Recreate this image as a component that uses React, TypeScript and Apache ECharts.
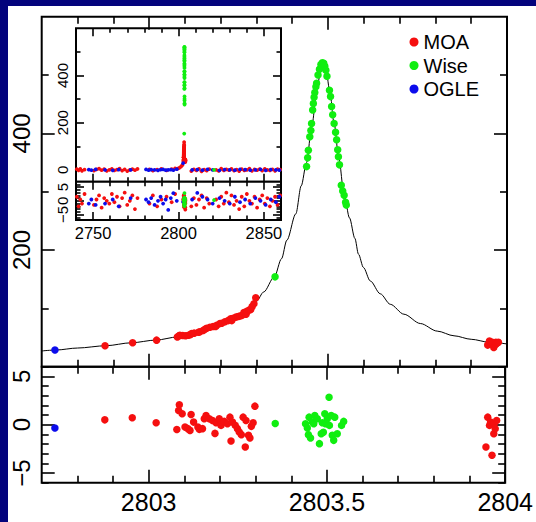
import React, { useEffect, useRef } from 'react';
import * as echarts from 'echarts';

// ---- model curve ----
const curveX = [2802.70, 2802.74, 2802.80, 2802.88, 2802.95, 2803.02, 2803.08, 2803.12, 2803.16, 2803.20, 2803.24, 2803.28, 2803.30, 2803.32, 2803.35, 2803.37, 2803.385, 2803.41, 2803.425, 2803.44, 2803.455, 2803.47, 2803.48, 2803.487, 2803.495, 2803.505, 2803.517, 2803.53, 2803.545, 2803.56, 2803.575, 2803.585, 2803.599, 2803.618, 2803.646, 2803.674, 2803.712, 2803.758, 2803.805, 2803.852, 2803.90, 2803.95, 2804.00];
const curveY = [27, 28.6, 32, 36, 41, 45.7, 51, 57, 66, 75, 85, 99, 112, 128, 154, 185, 217, 262, 310, 350, 415, 480, 510, 520, 505, 472, 417, 358, 294, 255, 220, 193, 170, 147, 125, 107, 90, 74, 61, 53, 47, 42, 39];

// ---- MOA ----
const moaX = [2802.877, 2802.954, 2803.021, 2803.079, 2803.084, 2803.086, 2803.094, 2803.102, 2803.110, 2803.116, 2803.119, 2803.126, 2803.138, 2803.142, 2803.151, 2803.156, 2803.161, 2803.170, 2803.179, 2803.186, 2803.189, 2803.198, 2803.203, 2803.212, 2803.221, 2803.228, 2803.231, 2803.235, 2803.243, 2803.249, 2803.254, 2803.260, 2803.265, 2803.271, 2803.273, 2803.280, 2803.284, 2803.288, 2803.293, 2803.298, 2803.946, 2803.951, 2803.956, 2803.959, 2803.963, 2803.968, 2803.969, 2803.972, 2803.976];
const moaY = [36, 41, 45.5, 51, 53, 54, 53.5, 53, 54, 55, 57, 57.5, 59, 60, 62, 64, 66, 67.5, 69, 69, 71, 74, 74.5, 77, 79, 82, 79, 83, 85, 86, 87, 88, 93, 90, 95, 97, 98, 103, 108, 118, 37, 44, 41, 42, 33, 38, 42, 40, 42];
const moaR = [0.5, 0.72, 0.2, -0.5, 1.47, 2.06, 1.13, -0.25, -0.41, -0.59, 1.06, 0.27, -0.25, -0.48, -0.41, 0.62, 0.96, 0.62, 0.44, -0.9, 0.2, 0.62, -0.07, 0.34, 0.1, 0.78, -1.69, 0.27, -0.07, -0.41, -0.76, -1.03, 0.78, -2.3, 0.44, -1.1, -1.38, -0.17, 0.2, 1.92, -2.3, 0.78, -0.07, 0.27, -3.16, -0.93, 0.1, -0.41, 0.44];

// ---- Wise ----
const wiseX = [2803.352, 2803.440, 2803.443, 2803.445, 2803.449, 2803.452, 2803.454, 2803.457, 2803.459, 2803.461, 2803.463, 2803.466, 2803.468, 2803.472, 2803.476, 2803.480, 2803.484, 2803.488, 2803.491, 2803.494, 2803.497, 2803.504, 2803.507, 2803.510, 2803.513, 2803.517, 2803.521, 2803.524, 2803.527, 2803.529, 2803.532, 2803.537, 2803.541, 2803.545, 2803.549, 2803.551];
const wiseY = [154, 343, 358, 371, 394, 405, 417, 440, 451, 462, 470, 480, 486, 500, 510, 518, 521, 520, 515, 508, 498, 474, 463, 446, 432, 417, 402, 389, 372, 360, 346, 311, 301, 294, 282, 277];
const wiseRX = [2803.355, 2803.440, 2803.445, 2803.448, 2803.450, 2803.454, 2803.459, 2803.463, 2803.466, 2803.473, 2803.479, 2803.484, 2803.487, 2803.490, 2803.494, 2803.496, 2803.501, 2803.506, 2803.507, 2803.512, 2803.515, 2803.519, 2803.522, 2803.529, 2803.541, 2803.547];
const wiseR = [0.13, 0.1, -0.35, -1.03, 0.78, -1.38, 0.27, 0.1, 0.96, 0.62, -1.96, -0.93, 0.2, -0.78, 1.13, 0.1, 0.62, 2.84, -0.07, 0.96, -1.1, -1.62, 0.78, -0.93, -0.07, 0.34];

// ---- OGLE ----
const ogleX = [2802.737];
const ogleY = [28.6];
const ogleR = [-0.35];

// ---- inset (whole season) ----
const insetMoaX = [2740.5, 2741.5, 2742.5, 2743.5, 2745, 2750.5, 2752, 2753.5, 2755, 2756.5, 2758, 2759.5, 2761, 2762.5, 2764, 2765.5, 2767, 2768.5, 2770, 2771.5, 2773, 2774.5, 2776, 2783, 2785, 2787.5, 2790, 2793, 2796, 2798, 2807.5, 2809, 2810.5, 2812, 2813.5, 2815, 2816.5, 2818, 2822, 2823.5, 2825, 2826.5, 2828, 2829.5, 2831, 2832.5, 2834, 2835.5, 2837, 2838.5, 2840, 2841.5, 2843, 2844.5, 2846, 2847.5, 2849, 2850.5, 2852, 2853.5, 2855, 2856.5, 2858, 2859.5];
const insetMoaY = [3, -2, 4, -4, 1, -3, 2, 5, -1, 3, -4, 0, 4, -2, 1, 5, -3, 2, -5, 0, 3, -1, 4, 2, -3, 1, 4, -2, 3, 6, -5, 2, -2, 4, -6, 1, -3, 3, 0, -4, 5, -2, 2, -1, 4, -3, 1, -5, 3, -2, 0, 5, -4, 2, -1, 3, -3, 4, 0, -2, 2, -4, 3, 1];
const insetMoaR = [1.5, -2, 0.5, -1, 2.5, -1.5, 0.5, 2, -2.5, 1, 0, -1, 2.5, -0.5, 1.5, -2, 1, 3, -1.5, 0, 2, -3, 1, -1, 2, -2, 0.5, 1.5, -0.5, 2.5, -2, 1, -1.5, 0.5, 2, -2.5, 1, -1, 0.5, -2, 1.5, -1, 3, -0.5, 2, -1.5, 0, -3, 1.5, -2, 2.5, 0, -1, 1.5, -2.5, 0.5, 2, -1, 1, -2, 0, 1.5, -1.5, 2];
const insetPreX = [2799.5, 2800.5, 2801.5, 2802.2];
const insetPreY = [5, 9, 14, 20];
const insetOgleX = [2747.5, 2749, 2751.5, 2757, 2761.5, 2765, 2772, 2781, 2782.5, 2784, 2786, 2788, 2789.5, 2791, 2792.5, 2794, 2795.5, 2797, 2799, 2808, 2811, 2814, 2817, 2820, 2824, 2827, 2830, 2833, 2836, 2839, 2842, 2845, 2848, 2851, 2854, 2857, 2859];
const insetOgleY = [1, -1, 2, 0, -2, 1, 0, 2, -1, 1, 0, -2, 1, 2, -1, 0, 1, -1, 3, 0, 1, -1, 2, 0, -2, 1, 0, -1, 2, 1, -1, 0, 2, -2, 1, 0, -1];
const insetOgleR = [-1, 0.5, -1.5, -1, 0.5, -2, 1, 0.5, -0.5, 1, -1.5, 0, 1.5, -1, 0.5, -3.3, 1, 2.8, 0, 0.5, 2.9, 1.5, 0.5, -1, 1, 0, -1, 1.5, -0.5, 0.5, -1, 1, 0, -1.5, 0.5, -0.5, 1.5];
const insetWiseX = [2820.8];
const insetWiseY = [0];
const insetWiseR = [0.3];

// ---- ticks and labels ----
const mainXMajor = [2803, 2803.5, 2804];
const mainXMinor = [2802.8, 2802.9, 2803.1, 2803.2, 2803.3, 2803.4, 2803.6, 2803.7, 2803.8, 2803.9];
const mainYMajor = [200, 400];
const mainYMinor = [100, 300, 500];
const residYMajor = [-5, 0, 5];
const residYMinor = [-6, -4, -3, -2, -1, 1, 2, 3, 4, 6];
const insetXMajor = [2750, 2800, 2850];
const insetXMinor = [2760, 2770, 2780, 2790, 2810, 2820, 2830, 2840];
const insetYMajor = [0, 200, 400];
const insetYMinor = [100, 300, 500];
const insetRMajor = [-5, 0, 5];
const insetRMinor = [-6, -4, -3, -2, -1, 1, 2, 3, 4, 6];

const FONT = '"Liberation Sans", Arial, Helvetica, sans-serif';
const RED = '#f50f0f';
const GREEN = '#10ee10';
const BLUE = '#0c0cec';
const NAVY = '#03037c';

const fmt = (v: number) => (v < 0 ? '\u2212' + String(Math.abs(v)) : String(v));
const pairs = (xs: number[], ys: number[]) => xs.map((x, i) => [x, ys[i]]);

function oneAxis(gridIndex: number, position: string, min: number, max: number, values: number[], len: number, label?: any) {
  return {
    type: 'value', gridIndex, position, min, max,
    axisLine: { show: false, onZero: false },
    splitLine: { show: false },
    minorTick: { show: false },
    axisPointer: { show: false },
    axisTick: { show: true, inside: true, length: len, customValues: values, lineStyle: { color: '#000', width: 1.6 } },
    axisLabel: label
      ? { show: true, customValues: label.values, fontSize: label.size, fontFamily: FONT, color: '#000', margin: label.margin, rotate: label.rotate || 0, formatter: fmt }
      : { show: false },
  };
}

function axesFor(gridIndex: number, dir: 'x' | 'y', min: number, max: number, major: number[], minor: number[], majLen: number, minLen: number, label?: any) {
  const p1 = dir === 'x' ? 'bottom' : 'left';
  const p2 = dir === 'x' ? 'top' : 'right';
  return [
    oneAxis(gridIndex, p1, min, max, major, majLen, label),
    oneAxis(gridIndex, p1, min, max, minor, minLen),
    oneAxis(gridIndex, p2, min, max, major, majLen),
    oneAxis(gridIndex, p2, min, max, minor, minLen),
  ];
}

function buildOption() {
  const xAxis = [
    ...axesFor(0, 'x', 2802.7, 2804, mainXMajor, mainXMinor, 13, 7),
    ...axesFor(1, 'x', 2802.7, 2804, mainXMajor, mainXMinor, 13, 7, { values: mainXMajor, size: 25, margin: 7 }),
    ...axesFor(2, 'x', 2740, 2860, insetXMajor, insetXMinor, 8, 4.5),
    ...axesFor(3, 'x', 2740, 2860, insetXMajor, insetXMinor, 8, 4.5, { values: insetXMajor, size: 16.5, margin: 4 }),
  ];
  const yAxis = [
    ...axesFor(0, 'y', 0, 600, mainYMajor, mainYMinor, 13, 7, { values: mainYMajor, size: 24, margin: 8, rotate: 90 }),
    ...axesFor(1, 'y', -6, 6, residYMajor, residYMinor, 13, 7, { values: residYMajor, size: 24, margin: 8, rotate: 90 }),
    ...axesFor(2, 'y', -50, 600, insetYMajor, insetYMinor, 8, 4.5, { values: insetYMajor, size: 15, margin: 6, rotate: 90 }),
    ...axesFor(3, 'y', -7, 7, insetRMajor, insetRMinor, 8, 4.5, { values: insetRMajor, size: 15, margin: 6, rotate: 90 }),
  ];
  const gridStyle = { show: true, borderColor: '#000', borderWidth: 2, backgroundColor: 'transparent' };
  const sc = (name: string, color: string, g: number, data: number[][], size: number, z = 3) => ({
    type: 'scatter', name, xAxisIndex: g * 4, yAxisIndex: g * 4, data,
    symbol: 'circle', symbolSize: size, itemStyle: { color, opacity: 1 }, z, silent: true,
  });
  return {
    animation: false,
    backgroundColor: '#ffffff',
    graphic: [
      { type: 'rect', shape: { x: 0, y: 0, width: 536, height: 6 }, style: { fill: NAVY }, silent: true },
      { type: 'rect', shape: { x: 0, y: 0, width: 8, height: 522 }, style: { fill: NAVY }, silent: true },
    ],
    legend: {
      orient: 'vertical', left: 409.5, top: 32, padding: 0, itemGap: 3.5,
      itemWidth: 9, itemHeight: 9, icon: 'circle', selectedMode: false,
      textStyle: { fontSize: 20, fontFamily: FONT, color: '#000', lineHeight: 20 },
      data: ['MOA', 'Wise', 'OGLE'],
    },
    grid: [
      { left: 41.7, top: 16.7, width: 465.3, height: 350, ...gridStyle },
      { left: 41.7, top: 366.7, width: 465.3, height: 116, ...gridStyle },
      { left: 76, top: 28.3, width: 205, height: 153.4, ...gridStyle, backgroundColor: '#fff' },
      { left: 76, top: 181.7, width: 205, height: 38.3, ...gridStyle, backgroundColor: '#fff' },
    ],
    xAxis,
    yAxis,
    series: [
      {
        type: 'line', name: 'model', xAxisIndex: 0, yAxisIndex: 0, data: pairs(curveX, curveY),
        showSymbol: false, smooth: 0.3, smoothMonotone: 'x', lineStyle: { color: '#000', width: 1 }, z: 2, silent: true,
      },
      sc('MOA', RED, 0, pairs(moaX, moaY), 7.5),
      sc('Wise', GREEN, 0, pairs(wiseX, wiseY), 7.5),
      sc('OGLE', BLUE, 0, pairs(ogleX, ogleY), 7.5),
      sc('MOA', RED, 1, pairs(moaX, moaR), 7.5),
      sc('Wise', GREEN, 1, pairs(wiseRX, wiseR), 7.5),
      sc('OGLE', BLUE, 1, pairs(ogleX, ogleR), 7.5),
      sc('MOA', RED, 2, [...pairs(insetMoaX, insetMoaY), ...pairs(insetPreX, insetPreY), ...pairs(moaX, moaY)], 3.8),
      sc('OGLE', BLUE, 2, [...pairs(insetOgleX, insetOgleY), ...pairs(ogleX, ogleY)], 3.8),
      sc('Wise', GREEN, 2, [...pairs(insetWiseX, insetWiseY), ...pairs(wiseX, wiseY)], 3.8),
      sc('MOA', RED, 3, [...pairs(insetMoaX, insetMoaR), ...pairs(moaX, moaR)], 3.8),
      sc('OGLE', BLUE, 3, [...pairs(insetOgleX, insetOgleR), ...pairs(ogleX, ogleR)], 3.8),
      sc('Wise', GREEN, 3, [...pairs(insetWiseX, insetWiseR), ...pairs(wiseRX, wiseR)], 3.8),
    ],
  };
}

export default function App() {
  const ref = useRef<HTMLDivElement>(null);
  useEffect(() => {
    if (!ref.current) return;
    const chart = echarts.init(ref.current, null, { renderer: 'svg' });
    chart.setOption(buildOption() as any);
    return () => chart.dispose();
  }, []);
  return <div ref={ref} style={{ position: 'absolute', left: 0, top: 0, width: 536, height: 522 }} />;
}
